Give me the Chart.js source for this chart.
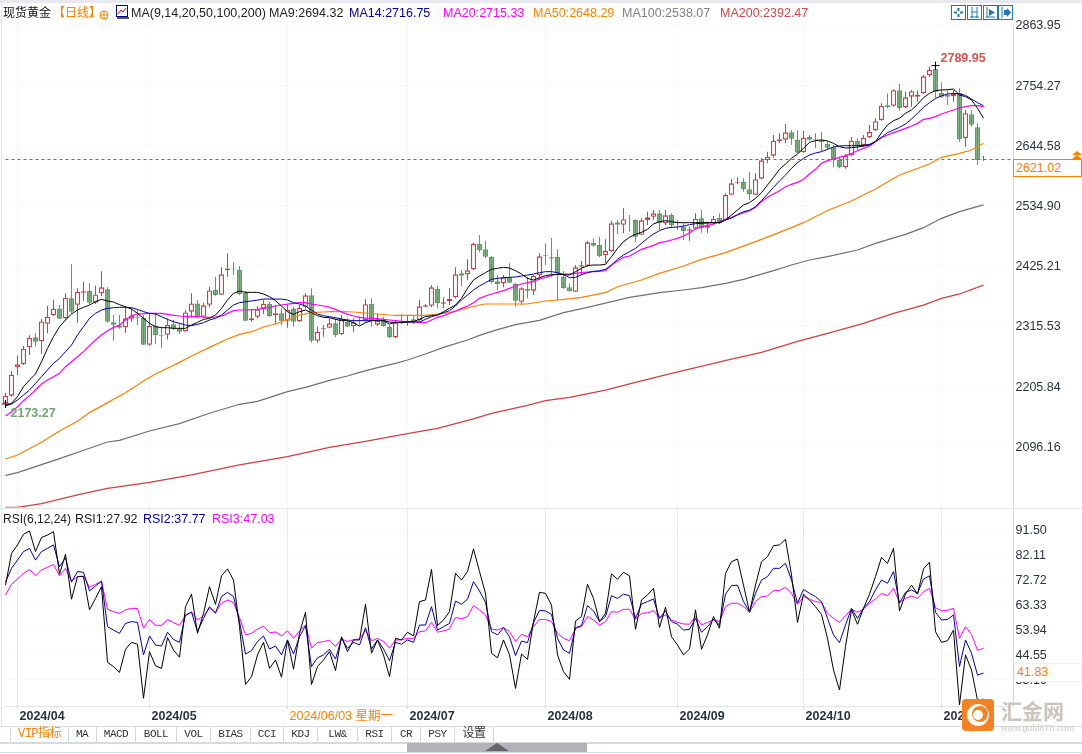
<!DOCTYPE html>
<html>
<head>
<meta charset="utf-8">
<title>现货黄金</title>
<script src="https://cdn.jsdelivr.net/npm/chart.js@4/dist/chart.umd.js"></script>
<style>
html,body{margin:0;padding:0;background:#fff;overflow:hidden}
#page{position:relative;width:1082px;height:754px;overflow:hidden;font:12.5px "Liberation Sans","Noto Sans CJK SC",sans-serif;color:#222}
canvas{position:absolute;left:0}
#mainChart{top:0;z-index:1}
#rsiChart{top:490px;z-index:1}
.t{position:absolute;white-space:nowrap;line-height:16px;z-index:5}
.line{position:absolute;z-index:2;background:#e3e5ec}
.btn{position:absolute;top:5px;width:13px;height:13px;border:1px solid #1a78c2;z-index:5;background:#fff}
.tab{position:absolute;top:726px;height:16px;line-height:16px;border-right:1px solid #d5dae2;text-align:center;font:11px/16px "Liberation Mono","Noto Sans CJK SC",monospace;letter-spacing:-.5px;color:#333;z-index:5}
</style>
</head>
<body>
<div id="page">
  <div class="line" style="left:0;top:0;width:1082px;height:3px;background:#e8e8f0"></div>
  <div class="line" style="left:1px;top:3px;width:1px;height:723px"></div>
  <div class="line" style="left:0;top:508px;width:1082px;height:1px"></div>
  <div class="line" style="left:0;top:726px;width:1082px;height:1px;background:#d5dae2"></div>
  <div class="line" style="left:0;top:742px;width:1082px;height:2px;background:#d5dae2"></div>
  <div class="line" style="left:0;top:752px;width:1082px;height:1px;background:#d5dae2"></div>
  <div class="line" style="left:407px;top:743px;width:180px;height:9px;background:#b2b2b8"></div>
  <svg style="position:absolute;left:485px;top:743px;z-index:3" width="24" height="8"><path d="M0 8L12 0L24 8Z" fill="#666"/></svg>

  <span class="t" style="left:3px;top:5px;font-size:12px;color:#111">现货黄金</span>
  <span class="t" style="left:53px;top:5px;font-size:12px;color:#ff8000">【日线】</span>
  <svg style="position:absolute;left:99px;top:10px;z-index:5" width="10" height="10"><circle cx="5" cy="5" r="4" fill="none" stroke="#ff8000"/><path d="M1 5H9M5 1V9" stroke="#ff8000"/></svg>
  <svg style="position:absolute;left:116px;top:5px;z-index:5" width="13" height="14"><rect x=".5" y=".5" width="11" height="11" fill="#fff" stroke="#000080"/><path d="M2 9L5 5L7 7L10 3" stroke="#d00" fill="none"/><path d="M1 13H13" stroke="#555" stroke-width="2"/></svg>
  <span class="t" style="left:131px;top:5px">MA(9,14,20,50,100,200)</span>
  <span class="t" style="left:269px;top:5px;color:#222">MA9:2694.32</span>
  <span class="t" style="left:349px;top:5px;color:#0000a0">MA14:2716.75</span>
  <span class="t" style="left:443px;top:5px;color:#ff00ff">MA20:2715.33</span>
  <span class="t" style="left:533px;top:5px;color:#ff8000">MA50:2648.29</span>
  <span class="t" style="left:622px;top:5px;color:#808080">MA100:2538.07</span>
  <span class="t" style="left:720px;top:5px;color:#d04848">MA200:2392.47</span>

  <div class="btn" style="left:951px"><svg width="13" height="13"><path d="M6.5 2V5M6.5 8V11M2 6.5H5M8 6.5H11" stroke="#1a78c2" stroke-width="2"/></svg></div>
  <div class="btn" style="left:967px"><svg width="13" height="13"><path d="M4 1V12M9 1V12M2 11H11M4 6H9" stroke="#1a78c2"/></svg></div>
  <div class="btn" style="left:983px"><svg width="13" height="13"><path d="M3 1V12M2 11H11" stroke="#1a78c2"/><path d="M5 3L11 6.5L5 10Z" fill="#1a78c2"/></svg></div>
  <div class="btn" style="left:998px"><svg width="13" height="13"><path d="M3 1V12" stroke="#1a78c2"/><path d="M5 4H8V2L12 6.5L8 11V9H5Z" fill="#1a78c2"/></svg></div>

  <span class="t" style="left:3px;top:511px;font-size:12px">RSI(6,12,24)</span>
  <span class="t" style="left:75px;top:511px;color:#222">RSI1:27.92</span>
  <span class="t" style="left:143px;top:511px;color:#0000a0">RSI2:37.77</span>
  <span class="t" style="left:212px;top:511px;color:#ff00ff">RSI3:47.03</span>

  <svg style="position:absolute;left:1071px;top:151px;z-index:5" width="12" height="9"><path d="M6 0L11 4H1Z M6 4L11 8H1Z" fill="#ff8000"/></svg>
  <div class="t" style="left:1013px;top:159px;width:65px;height:16px;border:1px solid #ff8000;background:#fff;color:#ff8000;padding-left:2px">2621.02</div>
  <div class="t" style="left:1014px;top:663px;width:64px;height:17px;border:1px solid #eee;background:#fff;color:#ff8000;padding-left:2px;line-height:17px">41.83</div>

  <div class="tab" style="left:10px;width:57px;color:#ff8000;border-left:1px solid #d5dae2;font-size:12px">VIP指标</div>
  <div class="tab" style="left:68px;width:28px">MA</div>
  <div class="tab" style="left:97px;width:38px">MACD</div>
  <div class="tab" style="left:136px;width:40px">BOLL</div>
  <div class="tab" style="left:177px;width:33px">VOL</div>
  <div class="tab" style="left:211px;width:39px">BIAS</div>
  <div class="tab" style="left:251px;width:32px">CCI</div>
  <div class="tab" style="left:284px;width:33px">KDJ</div>
  <div class="tab" style="left:318px;width:39px">LW&amp;</div>
  <div class="tab" style="left:358px;width:33px">RSI</div>
  <div class="tab" style="left:392px;width:28px">CR</div>
  <div class="tab" style="left:421px;width:33px">PSY</div>
  <div class="tab" style="left:455px;width:38px;font-size:12px">设置</div>

  <svg style="position:absolute;left:962px;top:699px;z-index:6" width="32" height="32"><rect width="32" height="32" rx="4" fill="#f58220"/><circle cx="16" cy="16" r="11" fill="#fff"/><circle cx="18" cy="15" r="8" fill="#f58220"/><circle cx="16" cy="16" r="5" fill="#fff"/></svg>
  <span class="t" style="left:1001px;top:700px;z-index:6;font-size:21px;line-height:24px;font-weight:bold;color:#cbc4bc">汇金网</span>
  <span class="t" style="left:1001px;top:722px;z-index:6;font-size:9px;line-height:12px;color:#d2ccc6">www.gold678.com</span>

  <canvas id="mainChart" width="1082" height="520"></canvas>
  <canvas id="rsiChart" width="1082" height="236"></canvas>
</div>

<script>
// trading days shown, oldest first (MM/DD, 2024)
const tradingDays = [
  '03/28','03/29',
  '04/01','04/02','04/03','04/04','04/05','04/08','04/09','04/10','04/11','04/12','04/15','04/16','04/17','04/18','04/19','04/22','04/23','04/24','04/25','04/26','04/29','04/30',
  '05/01','05/02','05/03','05/06','05/07','05/08','05/09','05/10','05/13','05/14','05/15','05/16','05/17','05/20','05/21','05/22','05/23','05/24','05/27','05/28','05/29','05/30','05/31',
  '06/03','06/04','06/05','06/06','06/07','06/10','06/11','06/12','06/13','06/14','06/17','06/18','06/19','06/20','06/21','06/24','06/25','06/26','06/27','06/28',
  '07/01','07/02','07/03','07/04','07/05','07/08','07/09','07/10','07/11','07/12','07/15','07/16','07/17','07/18','07/19','07/22','07/23','07/24','07/25','07/26','07/29','07/30','07/31',
  '08/01','08/02','08/05','08/06','08/07','08/08','08/09','08/12','08/13','08/14','08/15','08/16','08/19','08/20','08/21','08/22','08/23','08/26','08/27','08/28','08/29','08/30',
  '09/02','09/03','09/04','09/05','09/06','09/09','09/10','09/11','09/12','09/13','09/16','09/17','09/18','09/19','09/20','09/23','09/24','09/25','09/26','09/27','09/30',
  '10/01','10/02','10/03','10/04','10/07','10/08','10/09','10/10','10/11','10/14','10/15','10/16','10/17','10/18','10/21','10/22','10/23','10/24','10/25','10/28','10/29','10/30','10/31',
  '11/01','11/04','11/05','11/06','11/07','11/08','11/11','11/12'
];
// empty room right of the last candle
const emptyDays = ['pad1','pad2','pad3','pad4','pad5'];

const tickDays = ['04/01','05/01','06/03','07/01','08/01','09/02','10/01','11/01'];
const tickLabels = ['2024/04','2024/05','2024/06/03 星期一','2024/07','2024/08','2024/09','2024/10','2024/11'];
const priceTicks = [2863.95,2754.27,2644.58,2534.90,2425.21,2315.53,2205.84,2096.16];
const rsiTicks = [91.50,82.11,72.72,63.33,53.94,44.55,35.16];

// open, high, low, close
const candles = [
[2174.4,2193.8,2173.27,2188.4],[2188.4,2233.3,2186.5,2226.6],[2240,2261.9,2226,2245.5],[2246,2278.9,2244.3,2274],[2276.5,2298.3,2262.5,2294],
[2294.7,2302,2277.7,2286.8],[2287.4,2327.5,2264.3,2323.8],[2319.6,2351.8,2302,2332.3],[2334.8,2362.7,2333.6,2346.9],[2347.5,2353.6,2327.5,2328.7],
[2329.3,2374.9,2326.3,2367],[2365.8,2428.3,2338.4,2341.5],[2354.2,2384,2321.4,2377.9],[2376.1,2396.1,2361.5,2378.5],[2379.1,2393.1,2355.4,2357.9],
[2357.9,2388.8,2355.4,2373],[2374.9,2415,2370,2385.8],[2382.2,2385.8,2321.4,2323.2],[2322,2335.4,2288.6,2317.8],[2316.6,2335.4,2310.5,2312.3],
[2312.9,2350.6,2303.2,2329.3],[2328.7,2347.5,2323.2,2333.6],[2331.7,2344.5,2317.2,2330.5],[2329.9,2335.4,2280.7,2281.3],[2281.3,2338.4,2279.5,2315.3],
[2316,2339.6,2282.5,2299],[2299,2314.1,2275.9,2297.7],[2299.5,2329.3,2291,2317.2],[2318.4,2326.3,2308.1,2310.5],[2311.1,2320.2,2300.8,2305],
[2305.6,2344.5,2305,2340.2],[2341.5,2374.9,2331.1,2356.6],[2356.6,2362.7,2329.3,2331.1],[2332.3,2357.9,2331.1,2353],[2354.2,2387,2349.4,2380.3],
[2380.9,2405.2,2370.6,2371.8],[2372.4,2422.3,2371.8,2409.5],[2416.8,2447.8,2405.2,2420.4],[2420.4,2431.4,2408.3,2418.6],[2417.4,2424.7,2371.8,2373.7],
[2376.1,2379.7,2324.4,2325],[2325.7,2344.5,2323.2,2329.3],[2332.3,2351.8,2329.3,2345.7],[2347,2362.7,2337.2,2356],[2355.4,2359.7,2332.4,2333.6],
[2334.8,2353.6,2319,2338.4],[2338.4,2347.5,2317.2,2325],[2325,2353.6,2312.3,2344.5],[2347.5,2350.6,2314.1,2323.2],[2323.8,2353.6,2323.2,2348.7],
[2350.6,2374.9,2347.5,2371.2],[2371.2,2384,2285,2288.6],[2288.6,2314.1,2285,2305],[2309.3,2317.2,2295.9,2311.1],[2312.3,2329.3,2311.1,2320.2],
[2320.2,2329.3,2294.7,2299],[2300.2,2335.4,2299,2328.1],[2323.3,2329.3,2312.9,2314.1],[2314.8,2329.3,2305,2322],[2326.3,2332.4,2317.2,2325.1],
[2326.3,2364,2323.3,2354.9],[2355.5,2365.8,2314.2,2326.3],[2317.8,2338.5,2315.4,2325],[2327.5,2332.4,2314.2,2315.4],[2313.5,2317.2,2292.9,2294.7],
[2294.7,2326.3,2293.5,2322],[2323.3,2337.2,2319,2320.2],[2322,2335.4,2315.4,2325],[2327.5,2335.4,2319,2323.9],[2326.3,2362.8,2324.5,2351.2],
[2350.6,2355.5,2349.4,2353],[2352.4,2390.1,2349.4,2385.8],[2382.8,2388.3,2347.6,2356.7],[2356.1,2367.6,2347.6,2358.5],[2360.3,2384,2353.6,2365.2],
[2367.6,2422.3,2365.8,2409.5],[2411.4,2417.4,2388.3,2407],[2409.5,2436.9,2399.2,2416.8],[2418.6,2467.2,2417.4,2464.8],[2464.8,2481.2,2449.6,2453.9],
[2455.1,2470.9,2438.7,2441.7],[2441.7,2442.9,2393.1,2395.6],[2396.8,2408.3,2381,2391.9],[2393.1,2408.3,2385.8,2404],[2404,2429.6,2393.1,2394.3],
[2391.9,2393.1,2350.6,2361.5],[2359.7,2385.8,2353.6,2384],[2382.8,2405.3,2365.8,2379.8],[2379.8,2408.3,2371.9,2406.5],[2407.7,2447.8,2399.2,2442.3],
[2444.8,2466,2426.5,2443.5],[2440.5,2475.7,2405.3,2438.1],[2441.1,2455.1,2362.8,2411.4],[2404.7,2415.6,2383.4,2384.6],[2385.8,2393.1,2377.9,2379.2],
[2377.9,2426.5,2377.3,2422.3],[2423.5,2433.8,2408.3,2425.9],[2425.3,2470.9,2423.5,2467.8],[2466.6,2475.1,2459.9,2461.8],[2463,2478.2,2440.5,2442.9],
[2444.2,2473.3,2429.6,2452],[2452,2506.7,2450.8,2502.5],[2504.3,2508.5,2483,2500],[2500,2529.8,2484.3,2509.8],[2511,2517.7,2487.3,2509.8],
[2508.6,2509.8,2469.1,2478.2],[2481.8,2511.6,2481.2,2507.9],[2508.6,2523.7,2499.4,2513.4],[2514.6,2526.8,2508.6,2520.7],[2520.7,2526.8,2490.3,2502.5],
[2502.5,2526.8,2499.4,2517],[2517.7,2520.7,2493.4,2499.5],[2505.5,2508.6,2490.3,2503.7],[2495.8,2502.5,2472.1,2488.5],[2489.1,2496.4,2470.9,2491.6],
[2492.8,2520.7,2491.6,2511],[2511.6,2526.8,2485.5,2493.4],[2494.6,2505.5,2484.3,2497.6],[2502.5,2515.9,2499.5,2511],[2512.2,2520.7,2501.3,2502.5],
[2508.6,2557.2,2507.3,2554.1],[2554.7,2582.7,2554.1,2575.4],[2576,2586.3,2573.6,2577.2],[2577.8,2584.5,2560.2,2565.1],[2564.5,2596.7,2545,2556],
[2554.7,2593.6,2553.5,2582.7],[2583.9,2621,2582.7,2617.3],[2617.3,2633.1,2611.8,2624],[2625.8,2663.5,2622.2,2653.2],[2652.6,2666.5,2648.3,2655.6],
[2655,2683.5,2648.3,2668.3],[2668.3,2672.6,2645.3,2656.8],[2655,2672.6,2630.1,2631.3],[2631.9,2670.8,2631.3,2658.6],[2659.8,2663.5,2653.2,2655],
[2655.6,2666.5,2639.2,2653.8],[2653.8,2669.6,2634.3,2650.1],[2647.1,2651.3,2636.1,2640.4],[2641,2645.3,2604.6,2619.1],[2617.9,2624,2602.7,2604.6],
[2604.6,2628.9,2602.1,2625.2],[2627,2659.2,2625.2,2653.2],[2652.6,2657.4,2636.1,2644],[2645.3,2663.5,2642.2,2658.6],[2659.2,2681.7,2657.4,2669.6],
[2672,2693.9,2670.8,2688.4],[2690.8,2721.2,2689.6,2716.9],[2717.6,2739.4,2712.7,2713.9],[2716.9,2746.7,2715.1,2744.9],[2744.9,2756.4,2707.8,2712.7],
[2713.9,2742.5,2712.7,2732.1],[2733.4,2745.5,2715.1,2743.1],[2733.4,2744.3,2724.2,2737],[2739.4,2772.8,2738.2,2770.4],[2772.2,2788,2769.8,2782.6],
[2783.8,2789.95,2731.5,2742.5],[2740,2759.5,2731.5,2733.4],[2736.4,2745.5,2718.2,2733.4],[2734,2745.5,2724.2,2738.2],[2740,2748.5,2651.3,2656.2],
[2658,2709.1,2642.2,2703],[2701.1,2709.1,2678.7,2682.3],[2677.5,2684.8,2608.8,2617.9],[2617.5,2625,2616.5,2618.8]
];

const ma9 = [
2170.1,2174.4,2186.6,2204.8,2217,2227.9,2250.3,2274.6,2295.9,2314.1,2326.3,2337.2,2344.5,2349.4,2353.6,2359.7,2364,2360.9,2359.1,2354.2,2350.6,2346.3,2338.4,2329.3,2320.2,2314.1,2312.3,2312.3,2311.1,2311.1,2311.1,2317.2,2322,2327.5,2329.3,2335.4,2347.5,2362.7,2374.9,2379.1,2376.7,2376.7,2376.7,2373.7,2368.8,2361.5,2351.8,2341.5,2336.6,2341.5,2344.5,2339.6,2334.2,2331.1,2330.5,2327.5,
2325.1,2325.1,2321.4,2315.4,2321.4,2325.1,2326.3,2325.1,2322.7,2321.4,2322,2322.7,2323.3,2327.5,2332.4,2334.2,2335.4,2341.5,2347.6,2353.6,2365.8,2384,2399.2,2406.5,2412.6,2418.6,2420.5,2422.3,2421.1,2416.2,2410.1,2402.2,2399.2,2403.5,2407.1,2408.9,2409.5,2408.9,2408.3,2414.4,2420.5,2425.3,2426.5,2426.5,2427.8,2441.7,2456.9,2469.1,2477,2482.4,2486.1,2491.5,2501.3,2505.5,2507.3,
2505.5,2503.7,2503.7,2503.7,2503.7,2503.7,2503.7,2503.7,2503.7,2508.6,2517.7,2526.8,2535.9,2540.2,2548.1,2558.4,2572.4,2586.3,2600.9,2610.6,2621,2628.9,2639.2,2650.1,2653.2,2654.4,2652.6,2648.3,2642.2,2639.8,2640.4,2641.6,2643.4,2645.3,2651.3,2667.7,2681.7,2689.6,2693.9,2703,2709.1,2719.4,2731.5,2739.4,2744.3,2745.5,2746.1,2747.3,2736.4,2733.4,2727.3,2712.1,2694.32
];
const ma14 = [
2170.1,2173.2,2180.5,2189.6,2198.7,2210.8,2223,2235.2,2247.3,2256.4,2268.6,2280.7,2299,2314.1,2329.3,2338.4,2344.5,2347.5,2348.7,2349.4,2349.4,2348.7,2345.7,2341.5,2338.4,2337.2,2332.3,2327.5,2323.2,2320.2,2317.2,2316,2318.4,2321.4,2326.3,2329.3,2335.4,2344.5,2353.6,2357.9,2359.7,2360.9,2362.7,2364.5,2364.5,2364.5,2364.5,2362.7,2357.9,2355.4,2351.8,2344.5,2337.2,2334.2,2332.3,2330.5,
2328.1,2326.3,2325.1,2325.1,2325.1,2325.1,2325.1,2325.1,2319,2322,2322,2322.7,2322.7,2322.7,2327.5,2332.4,2335.4,2339.7,2343.3,2351.8,2362.8,2371.9,2381,2388.3,2394.3,2400.4,2402.2,2403.5,2404,2404.7,2406.5,2408.3,2410.1,2412.6,2414.4,2414.4,2412.6,2408.9,2403.5,2404,2408.9,2412.6,2415,2416.2,2418.6,2426.5,2436.9,2444.8,2450.8,2456.9,2466,2475.1,2483,2489.1,2493.4,
2495.2,2495.8,2497.6,2500,2501.9,2502.5,2503.1,2503.7,2503.7,2508.6,2512.2,2518.3,2523.8,2526.2,2532.9,2543.8,2555.9,2568.1,2579.7,2590.6,2602.7,2613.1,2621,2627,2630.7,2633.1,2637.4,2641.6,2643.4,2644,2644,2644,2644.7,2646.5,2651.9,2659.2,2667.7,2672.6,2677.5,2683.5,2692.6,2703,2713.9,2722.4,2730.3,2734.6,2738.2,2739.4,2738.2,2735.8,2729.1,2722.4,2716.75
];
const ma20 = [
2151.3,2159.2,2168.3,2179.3,2188.4,2198.7,2209.6,2217,2223,2229.1,2241.2,2250.3,2259.4,2268.6,2279.5,2289.8,2299,2306.8,2312.9,2317.2,2326.3,2334.2,2337.2,2337.8,2338.4,2338.4,2338.4,2336.6,2334.8,2333.6,2333,2333,2332.4,2331.7,2331.1,2331.7,2333.6,2338.4,2343.3,2344.5,2344.5,2345.1,2345.7,2347.5,2349.4,2351.8,2353.6,2355.4,2356.7,2357.9,2357.9,2355.4,2353.6,2351.8,2349.4,2345.7,
2340.9,2336.6,2333.6,2331.2,2329.9,2329.3,2328.7,2327.5,2326.3,2325.1,2323.9,2323.3,2322.7,2322,2321.4,2326.3,2331.2,2334.2,2338.5,2342.7,2347.6,2351.8,2357.9,2365.8,2370,2373.7,2376.7,2379.8,2384,2388.3,2391.9,2394.3,2396.8,2401,2404,2407.7,2410.1,2410.1,2410.1,2411.4,2412.6,2413.8,2414.4,2415,2416.2,2426.5,2433.8,2440.5,2442.9,2449,2455.1,2458.7,2462.4,2467.2,2469.1,
2472.1,2475.2,2479.4,2485.5,2492.2,2496.4,2498.8,2501.3,2505.5,2509.8,2513.4,2517.7,2521.9,2525.6,2531.7,2542,2549.9,2556,2562,2569.3,2573.6,2577.2,2582.7,2592.4,2600.9,2611.9,2616.7,2619.7,2622.8,2625.8,2630.1,2634.9,2639.2,2643.4,2651.3,2658.6,2663.5,2667.7,2671.4,2675.6,2679.9,2684.7,2692,2693.9,2696.9,2701.8,2705.4,2709.1,2712.7,2715.1,2716.9,2716.9,2715.33
];
// the slow averages are read at the bars where they change slope
const ma50Bars = [0,2,6,9,12,14,17,20,23,25,29,31,34,37,39,41,43,45,47,49,51,53,55,58,64,65,70,72,74,76,79,80,87,90,93,96,100,102,106,109,113,116,120,125,129,133,137,141,145,149,154,156,159,161,163];
const ma50 = [2073,2080.3,2103.4,2124,2141.7,2157.5,2175.7,2193.9,2215.2,2227.9,2249.1,2260.7,2276.4,2291.6,2300.2,2305,2313.5,2319,2327.5,2335.4,2339.6,2340.9,2342.1,2340.9,2335.4,2334.8,2334.8,2337.2,2339.7,2345.7,2353.6,2355.5,2355.5,2360.9,2364,2367.6,2376.1,2387,2399.2,2411.4,2424.7,2436.9,2449,2469.1,2486.1,2503.7,2526,2543.2,2565.1,2590.6,2610.6,2622.8,2630.1,2636.2,2648.29];
const ma100Bars = [0,2,5,9,14,17,19,24,29,34,39,42,47,50,54,57,59,62,65,67,70,73,77,79,82,85,89,93,97,104,109,113,116,120,123,128,131,134,137,142,145,150,153,156,159,163];
const ma100 = [2043.3,2048.1,2059,2073.6,2092.5,2104,2107,2124,2137.4,2156.3,2172.7,2178.1,2195.7,2203.6,2216.4,2224.2,2230.9,2239.4,2247.3,2253.4,2264.3,2276.5,2289.9,2298.4,2308.7,2317.8,2325.7,2339.7,2349.4,2367.6,2376.1,2381,2385.2,2393.1,2400.4,2416.2,2426.5,2435.7,2441.7,2453.9,2466,2482.4,2494.6,2511.6,2523.7,2536];
const ma200Bars = [0,2,6,12,17,24,31,39,47,54,60,67,72,78,81,87,90,94,100,105,111,121,126,132,137,143,148,153,156,159,163];
const ma200 = [1985,1985,1991.6,2007.4,2019.6,2030.5,2043.9,2062.1,2077.3,2094.2,2105.2,2119.1,2128.9,2145.9,2156.2,2170.8,2179.3,2185.4,2198.7,2212.7,2229.1,2255.2,2267.4,2287.4,2302,2320.2,2338.5,2353.6,2365.8,2373.7,2390];

const rsi1 = [
70.8,82.7,85.9,89.9,91.1,83.4,88.7,89.6,90.9,74.9,82.4,65.5,74,74,61.5,65.8,70.2,41.8,40.2,38,46.7,49.3,48.6,28.3,45.8,40.5,39.5,51.1,46.4,43.7,62.7,67.4,52.7,60.2,70.2,63.6,74.3,76.9,72.7,55.2,33.5,36.4,44.6,49.3,39.5,42.7,36.2,50.2,39.2,52.7,60.6,33.5,40.2,42.7,45.8,38.7,51.4,45.8,50.2,50.2,
63.6,45.2,50.2,44.6,36.4,50.8,50.2,53.1,51.7,64.6,65.2,76.7,55.6,57.7,60.8,75.2,72.7,75.9,84.4,75.9,67.7,45.2,43.5,50.2,44.6,32,44.9,42.9,57.1,68.1,67.7,63.3,44.6,38.3,35.4,57.3,59,71.1,65.8,57.1,60.2,75,73,75.6,74.3,54.2,65.2,67.1,69.6,54.9,62.5,51.4,48.3,44.6,46.8,61.5,46.7,52.1,59,54.6,
75.2,79.6,80.6,70.8,60.6,70.8,79.6,81.5,85.6,85.9,88,74.6,56.8,67.4,65.2,62.7,59.8,50.8,38.9,31.4,47.7,61.5,56.1,62.1,67.4,74,81.2,79,84.6,61.1,67.4,70.8,67.4,76.9,79.4,53.3,49.3,49.9,53.9,25.8,44.6,38.9,27.6,27.92
];
const rsi2 = [
71.9,77.1,80.2,83.4,84.6,80.2,83.4,84.6,85.9,77.7,81.1,71.9,75.9,75.6,68.6,70.5,72.3,55.2,53.9,52.7,56.4,57.1,56.8,44.6,51.7,48.3,47.9,53.1,50.4,49.3,59.6,60.6,53.3,58.3,62.7,60.2,66.5,68.1,66.5,57.1,44.9,46.2,49.6,51.7,46.8,47.9,44.6,50.2,44.9,51.4,55.6,40.2,43.5,44.6,46.7,43,50.8,47.1,49.3,48.3,
54.8,46.8,50.2,46.8,42.4,49.3,48.6,50.2,49.3,55.8,55.8,62.7,53.9,55.2,56.4,64.8,63.6,65.5,72.1,68.6,64.3,53.3,52.1,54.8,51.4,44.3,49.8,49.2,56.7,61.3,61.1,59.8,50.8,46.4,45.2,54.8,55.6,63.1,61.1,57.1,59,66.8,65.8,67.4,66.8,58.3,63.7,64.6,65.6,58.3,61.1,57.1,56.1,53.9,54.2,58.3,53.1,55.2,57.9,55.8,
67.4,70.6,70.8,64.6,60.8,67.7,72.7,74,77.1,77.1,79,72.7,64,69.2,67.7,66.5,64.6,58.3,52.1,49.2,55.8,62.1,58.3,62.1,64.6,69,72.7,71.5,75.9,64,68.1,69,67.7,73.1,74.3,60.6,57.7,57.9,59.6,40.2,50.2,45.2,37,37.77
];
const rsi3 = [
67.1,71.1,73.1,75.2,76.7,74.3,76.5,77.5,78.6,74.3,77.1,72.3,74,74.2,70,71.1,72.3,61.7,60.8,60.2,61.5,62.1,62,54.6,57.9,55.7,55.7,57.9,56.7,55.7,59.3,60.8,57.7,59.3,62.1,60.6,64,65.2,64.2,58.6,52.1,52.7,54.3,55.4,52.9,53.2,51.7,53.6,50.8,53.6,55.8,47.1,49.2,49.6,50.1,47.7,50.6,49.6,50.3,50.6,
53.9,49.9,50.8,49.6,47.1,50.2,50.2,50.8,50.8,53.3,53.6,56.8,53.1,53.6,54.3,58.7,58.1,59,63.1,61.5,59.6,54.3,53.9,54.9,53.3,49.6,52.3,51.4,55.2,57.9,57.9,57.1,52.7,50.8,49.9,54.6,55.2,59,57.7,55.8,57.1,60.8,60.6,61.7,61.7,57.9,60.2,60.4,61.2,58.6,59.6,57.7,56.8,56.2,56.1,59,55.8,56.8,57.8,57.1,
62.7,64,64,62.7,60.6,64.6,66.5,66.7,68.7,68.8,70,67.7,63.6,66.5,65.5,64.6,64.3,60.2,58.3,56.8,59.3,61.8,60.6,61.8,64,65.6,67.7,66.8,69.6,64.3,65.8,66.7,65.8,68.3,69.6,62.3,61.1,61.3,62.1,50.8,55.2,52.3,46.3,47.03
];

// dashed last price line
const lastPriceLine = 2618.8;
const highBar = 155, highPrice = 2789.95;
const lowBar = 0, lowPrice = 2173.27;

const allDays = tradingDays.concat(emptyDays);
const tickBars = tickDays.map(d => tradingDays.indexOf(d));
const upColor = '#cc4040', downColor = '#5a9e5e', gridColor = '#e8e8e8';
const axisFont = {family: '"Liberation Sans","Noto Sans CJK SC",sans-serif', size: 12.5};
const isUp = c => c[3] >= c[0];

const sparse = (bars, values) => bars.map((b, i) => ({x: allDays[b], y: values[i]}));

function lineSet(data, color, order, width) {
    return {type: 'line', data: data, borderColor: color, borderWidth: width || 1, pointRadius: 0, tension: 0, order: order};
}

function yAxis(min, max, ticks) {
    return {
        position: 'right', min: min, max: max,
        afterBuildTicks: s => { s.ticks = ticks.map(v => ({value: v})); },
        afterFit: s => { s.width = 68.5; },
        ticks: {autoSkip: false, crossAlign: 'near', padding: 2, labelOffset: 1, color: '#2b3240', font: axisFont, callback: v => Number(v).toFixed(2)},
        grid: {color: gridColor, drawTicks: false},
        border: {dash: [1, 3], color: '#d8d8d8'}
    };
}

// high and low captions next to the + marks
const extremeLabels = {
    id: 'extremeLabels',
    afterDatasetsDraw(chart) {
        const {ctx, scales: {x, y}} = chart;
        ctx.save();
        ctx.font = 'bold 12.5px "Liberation Sans",sans-serif';
        ctx.textBaseline = 'middle';
        ctx.fillStyle = '#d9534f';
        ctx.fillText(highPrice.toFixed(2), x.getPixelForValue(highBar) + 5, y.getPixelForValue(highPrice) - 7);
        ctx.fillStyle = '#6fa56f';
        ctx.fillText(lowPrice.toFixed(2), x.getPixelForValue(lowBar) + 5, y.getPixelForValue(lowPrice) + 10);
        ctx.restore();
    }
};

new Chart(document.getElementById('mainChart'), {
    type: 'bar',
    plugins: [extremeLabels],
    data: {
        labels: allDays,
        datasets: [
            {
                data: candles.map(c => [c[2], c[1]]),
                backgroundColor: candles.map(c => isUp(c) ? upColor : downColor),
                barThickness: 1, grouped: false, inflateAmount: 0, order: 9, clip: false
            },
            {
                data: candles.map(c => [c[0], c[3]]),
                backgroundColor: candles.map(c => isUp(c) ? '#ffffff' : downColor),
                borderColor: candles.map(c => isUp(c) ? upColor : downColor),
                borderWidth: 1.3, borderSkipped: false,
                barThickness: 5, grouped: false, inflateAmount: 0, order: 8, clip: false
            },
            lineSet(sparse(ma200Bars, ma200), '#d04040', 6, 1.3),
            lineSet(sparse(ma100Bars, ma100), '#707070', 5, 1.2),
            lineSet(sparse(ma50Bars, ma50), '#ff8000', 4, 1.2),
            lineSet(ma20, '#ff00ff', 3, 1.2),
            lineSet(ma14, '#0000a0', 2),
            lineSet(ma9, '#000000', 1),
            {
                type: 'line', order: 7, pointRadius: 0, borderWidth: 1, borderColor: '#1f80e0', borderDash: [3, 3],
                data: [{x: allDays[0], y: lastPriceLine}, {x: allDays[allDays.length - 1], y: lastPriceLine}]
            },
            {
                type: 'line', order: 0, showLine: false, pointStyle: 'cross', pointRadius: 4, borderColor: '#000', borderWidth: 1, clip: false,
                data: [{x: allDays[lowBar], y: lowPrice}, {x: allDays[highBar], y: highPrice}]
            }
        ]
    },
    options: {
        responsive: false, animation: false,
        layout: {padding: {top: 25, left: 5.5, right: 0, bottom: 12.5}},
        plugins: {legend: {display: false}, tooltip: {enabled: false}},
        scales: {
            x: {
                offset: false,
                afterBuildTicks: s => { s.ticks = tickBars.map(v => ({value: v})); },
                ticks: {display: false},
                grid: {color: gridColor, offset: false, drawTicks: false},
                border: {display: false, dash: [1, 3]}
            },
            y: yAxis(1984.6, 2863.95, priceTicks)
        }
    }
});

new Chart(document.getElementById('rsiChart'), {
    type: 'line',
    data: {
        labels: allDays,
        datasets: [
            lineSet(rsi3, '#ff00ff', 3),
            lineSet(rsi2, '#0000a0', 2),
            lineSet(rsi1, '#000000', 1)
        ]
    },
    options: {
        responsive: false, animation: false,
        layout: {padding: {top: 19, left: 5.5, right: 0, bottom: 0}},
        plugins: {legend: {display: false}, tooltip: {enabled: false}},
        scales: {
            x: {
                offset: false,
                afterBuildTicks: s => { s.ticks = tickBars.map(v => ({value: v})); },
                afterFit: s => { s.height = 20; },
                ticks: {
                    autoSkip: false, maxRotation: 0, align: 'start', labelOffset: 2, padding: 0,
                    callback: (v, i) => tickLabels[i],
                    color: c => tickLabels[c.index].length > 7 ? '#ff8000' : '#2b3240',
                    font: c => ({family: axisFont.family, size: 12.5, weight: tickLabels[c.index].length > 7 ? 'normal' : 'bold'})
                },
                grid: {color: gridColor, offset: false, tickLength: 3, tickColor: '#dcdcdc'},
                border: {color: '#e3e5ec'}
            },
            y: yAxis(25.39, 99.39, rsiTicks)
        }
    }
});
</script>
</body>
</html>
